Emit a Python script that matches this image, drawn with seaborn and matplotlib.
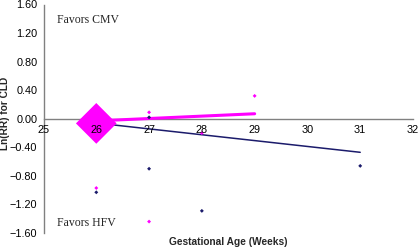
import matplotlib
matplotlib.use("Agg")
import matplotlib.pyplot as plt
import seaborn as sns
import pandas as pd

# Data
pink_weeks = [27, 29, 26, 27, 28]
pink_lnrr = [0.09, 0.32, -0.97, -1.44, -0.20]
navy_weeks = [27, 27, 26, 28, 31]
navy_lnrr = [0.02, -0.70, -1.03, -1.29, -0.66]
pooled_week = [26]
pooled_lnrr = [-0.065]
pink_fit_weeks = [26, 29]
pink_fit_lnrr = [-0.03, 0.07]
navy_fit_weeks = [26, 31]
navy_fit_lnrr = [-0.06, -0.47]
x_ticks = [25, 26, 27, 28, 29, 30, 31, 32]
y_ticks = [-1.6, -1.2, -0.8, -0.4, 0.0, 0.4, 0.8, 1.2, 1.6]

PINK = "#FF00FF"
NAVY = "#1B1B6B"
GRAY = "#808080"

sns.set_style("white")
plt.rcParams['font.family'] = ['Liberation Sans', 'DejaVu Sans']

fig = plt.figure(figsize=(4.19, 2.5), dpi=100)
ax = fig.add_axes([43.5/419, 1-233/250, (413-43.5)/419, (233-4.5)/250])

pink_df = pd.DataFrame({"w": pink_weeks, "y": pink_lnrr})
navy_df = pd.DataFrame({"w": navy_weeks, "y": navy_lnrr})
pool_df = pd.DataFrame({"w": pooled_week, "y": pooled_lnrr})
pfit = pd.DataFrame({"w": pink_fit_weeks, "y": pink_fit_lnrr})
nfit = pd.DataFrame({"w": navy_fit_weeks, "y": navy_fit_lnrr})

sns.lineplot(data=nfit, x="w", y="y", color=NAVY, lw=1.1, ax=ax, zorder=0.8)
sns.lineplot(data=pfit, x="w", y="y", color=PINK, lw=2.2, ax=ax, zorder=0.8)
sns.scatterplot(data=pool_df, x="w", y="y", marker="D", s=430, color=PINK,
                edgecolor="none", ax=ax, zorder=1)
sns.scatterplot(data=pink_df, x="w", y="y", marker="D", s=4, color=PINK,
                edgecolor="none", ax=ax, zorder=1.2)
sns.scatterplot(data=navy_df, x="w", y="y", marker="D", s=4, color=NAVY,
                edgecolor="none", ax=ax, zorder=1.2)

ax.set_xlim(25, 32)
ax.set_ylim(-1.6, 1.6)
ax.set_xticks(x_ticks)
ax.set_xticklabels([str(t) for t in x_ticks])
ax.set_yticks(y_ticks)
ax.set_yticklabels([f"{t:.2f}".replace("-", "\u2212") for t in y_ticks])

for s in ["top", "right"]:
    ax.spines[s].set_visible(False)
ax.spines["bottom"].set_position(("data", 0))
ax.spines["bottom"].set_zorder(0.5)
ax.spines["bottom"].set_color(GRAY)
ax.spines["left"].set_color(GRAY)
ax.spines["bottom"].set_linewidth(1)
ax.spines["left"].set_linewidth(1)
ax.xaxis.set_zorder(3)

ax.tick_params(axis="both", which="both", direction="out", length=3, width=1,
               color=GRAY, labelsize=7.8, labelcolor="black", pad=1.5)
ax.tick_params(axis="x", pad=1.5)

ax.set_xlabel("Gestational Age (Weeks)", fontsize=7.3, fontweight="bold")
ax.xaxis.set_label_coords((228.5-43.5)/(413-43.5), -(242-233)/(233-4.5), transform=ax.transAxes)
ax.xaxis.label.set_va("center")
ax.set_ylabel("Ln(RR) for CLD", fontsize=7.3, fontweight="bold")
ax.yaxis.set_label_coords(-(43.5-5)/(413-43.5), (233-113)/(233-4.5), transform=ax.transAxes)
ax.yaxis.label.set_va("center")

ax.text(25.25, 1.38, "Favors CMV", family="Liberation Serif", fontsize=8.5, va="center", ha="left")
ax.text(25.25, -1.46, "Favors HFV", family="Liberation Serif", fontsize=8.5, va="center", ha="left")

fig.savefig("out.png", dpi=100)
